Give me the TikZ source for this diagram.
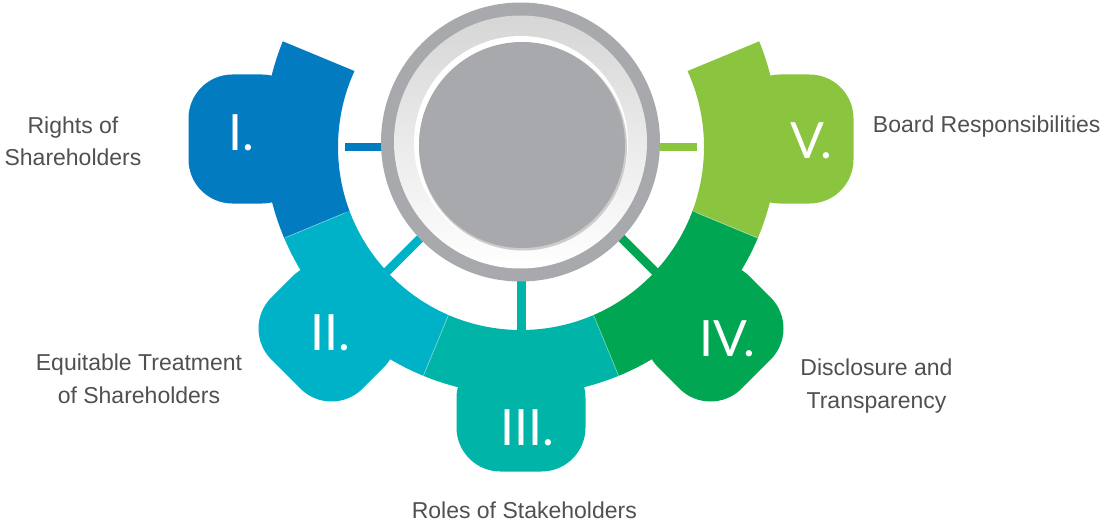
\documentclass[tikz,border=0pt]{standalone}
\usepackage{fontspec}
\setmainfont{Liberation Sans}
\newfontfamily\numfont{Lato}
\usetikzlibrary{calc}
\definecolor{cI}{RGB}{2,123,193}
\definecolor{cII}{RGB}{0,178,200}
\definecolor{cIII}{RGB}{0,180,168}
\definecolor{cIV}{RGB}{0,166,82}
\definecolor{cV}{RGB}{139,197,63}
\definecolor{ringgrey}{RGB}{167,169,172}
\definecolor{labelgrey}{RGB}{80,80,82}
\definecolor{rimgrey}{RGB}{205,203,204}
\definecolor{shadegrey}{RGB}{214,214,215}
\begin{document}
\begin{tikzpicture}[x=1pt,y=-1pt,
  lbl/.style={font=\fontsize{23}{32.4}\selectfont, text=labelgrey, align=center, inner sep=0pt, anchor=base},
  numeral/.style={font=\numfont\fontsize{50}{50}\selectfont, text=white, inner sep=0pt, anchor=base},
  conn/.style={line width=8.5pt},
  sep/.style={white, opacity=0.35, line width=0.8pt}]
\useasboundingbox (0,0) rectangle (1103,524);
\coordinate (W) at (521,140);
\coordinate (Co) at (521,138);
\coordinate (Ci) at (521,147);
\coordinate (T) at (521,139);
\coordinate (D) at (521,137.5);
% connectors
\coordinate (hI) at (400,147);   \coordinate (rI) at (345,147);
\coordinate (hII) at ($(D)+(135:125)$); \coordinate (rII) at ($(D)+(135:195)$);
\coordinate (hIII) at (521.5,270); \coordinate (rIII) at (521.5,336);
\coordinate (hIV) at ($(D)+(45:125)$); \coordinate (rIV) at ($(D)+(45:195)$);
\coordinate (hV) at (642,147);   \coordinate (rV) at (697,147);
\draw[conn,cI] (hI) -- (rI);
\draw[conn,cII] (hII) -- (rII);
\draw[conn,cIII] (hIII) -- (rIII);
\draw[conn,cIV] (hIV) -- (rIV);
\draw[conn,cV] (hV) -- (rV);
% ring segments with tabs
\foreach \a/\c in {180/cI,135/cII,90/cIII,45/cIV,0/cV}{
  \begin{scope}
    \clip (W) -- ($(W)+(\a-22.5:420)$) -- ($(W)+(\a+22.5:420)$) -- cycle;
    \fill[\c, even odd rule] (Co) circle[radius=257pt] (Ci) circle[radius=183pt];
  \end{scope}
  \fill[\c, rounded corners=44pt] ($(T)+(\a:215)+(\a+90:64.5)$) -- ($(T)+(\a:332.5)+(\a+90:64.5)$) -- ($(T)+(\a:332.5)+(\a-90:64.5)$) -- ($(T)+(\a:215)+(\a-90:64.5)$) -- cycle;
}
\foreach \b in {157.5,112.5,67.5,22.5}{
  \draw[sep] ($(W)+(\b:190)$) -- ($(W)+(\b:255)$);
}
% central disc
\fill[ringgrey] (520.5,142) circle[radius=139.5pt];
\shade[top color=shadegrey, bottom color=white] (520.5,142) circle[radius=126.5pt];
\fill[white] (521,143) circle[radius=107pt];
\fill[rimgrey] (523,146.5) circle[radius=104pt];
\fill[ringgrey] (522,145) circle[radius=103pt];
% numerals
\node[numeral] (nI) at (241,150.7) {I.};
\node[numeral] (nII) at (330,350) {II.};
\node[numeral] (nIII) at (527,445) {III.};
\node[numeral] (nIV) at (727,356.7) {IV.};
\node[numeral] (nV) at (811,158) {V.};
% labels (anchor base = baseline of the last line)
\node[lbl] (lI) at (73,165.7) {Rights of\\Shareholders};
\node[lbl] (lII) at (139,403.3) {Equitable Treatment\\of Shareholders};
\node[lbl] (lIII) at (524.3,518.3) {Roles of Stakeholders};
\node[lbl] (lIV) at (876.5,408.3) {Disclosure and\\Transparency};
\node[lbl] (lV) at (986.7,132.3) {Board Responsibilities};
\end{tikzpicture}
\end{document}
